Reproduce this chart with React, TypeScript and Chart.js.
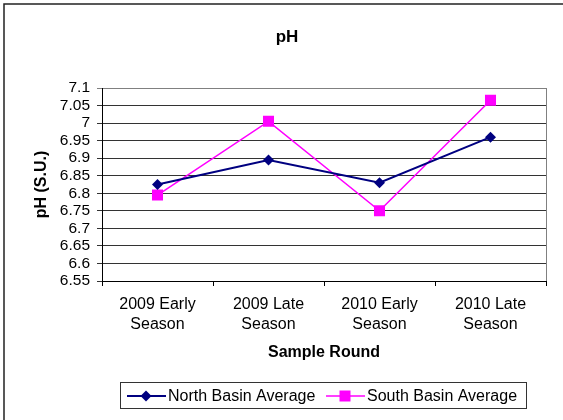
import React, { useEffect, useRef } from 'react';
import { Chart, registerables } from 'chart.js';

Chart.register(...registerables);

const categories: string[][] = [
  ['2009 Early', 'Season'],
  ['2009 Late', 'Season'],
  ['2010 Early', 'Season'],
  ['2010 Late', 'Season'],
];
const northBasin = [6.825, 6.895, 6.83, 6.96];
const southBasin = [6.795, 7.005, 6.75, 7.065];
const seriesNames = ['North Basin Average', 'South Basin Average'];
const yMin = 6.55;
const yMax = 7.1;
const yStep = 0.05;
const chartTitle = 'pH';
const yTitle = 'pH (S.U.)';
const xTitle = 'Sample Round';

const FONT = '"Liberation Sans", Arial, sans-serif';
const NAVY = '#000080';
const MAGENTA = '#FF00FF';

function drawMarker(ctx: CanvasRenderingContext2D, style: string, x: number, y: number, color: string) {
  ctx.save();
  ctx.fillStyle = color;
  ctx.beginPath();
  if (style === 'rectRot') {
    const r = 5.5;
    ctx.moveTo(x, y - r);
    ctx.lineTo(x + r, y);
    ctx.lineTo(x, y + r);
    ctx.lineTo(x - r, y);
    ctx.closePath();
  } else {
    const h = 5.5;
    ctx.rect(x - h, y - h, 2 * h, 2 * h);
  }
  ctx.fill();
  ctx.restore();
}

const decorPlugin = {
  id: 'decor',
  beforeDraw(chart: any) {
    const { ctx, width, height } = chart;
    ctx.save();
    ctx.fillStyle = '#fff';
    ctx.fillRect(0, 0, width, height);
    ctx.strokeStyle = '#222';
    ctx.lineWidth = 1.5;
    ctx.strokeRect(4, 4, width + 20, height + 20);
    ctx.restore();
  },
  afterDraw(chart: any) {
    const { ctx, chartArea } = chart;
    ctx.save();
    // plot area right border
    ctx.strokeStyle = '#808080';
    ctx.lineWidth = 1;
    ctx.beginPath();
    ctx.moveTo(Math.round(chartArea.right) + 0.5, chartArea.top);
    ctx.lineTo(Math.round(chartArea.right) + 0.5, chartArea.bottom);
    ctx.stroke();

    // title
    ctx.fillStyle = '#000';
    ctx.font = `bold 17px ${FONT}`;
    ctx.textAlign = 'center';
    ctx.textBaseline = 'middle';
    ctx.fillText(chartTitle, 287, 37);

    // legend
    ctx.strokeStyle = '#333';
    ctx.lineWidth = 1;
    ctx.strokeRect(120.5, 382.5, 406, 26);
    const ly = 396;
    const starts = [127, 326];
    chart.data.datasets.forEach((ds: any, i: number) => {
      const x0 = starts[i];
      ctx.strokeStyle = ds.borderColor;
      ctx.lineWidth = ds.borderWidth;
      ctx.beginPath();
      ctx.moveTo(x0, ly);
      ctx.lineTo(x0 + 39, ly);
      ctx.stroke();
      drawMarker(ctx, ds.pointStyle, x0 + 19, ly, ds.pointBackgroundColor);
      ctx.fillStyle = '#000';
      ctx.font = `16px ${FONT}`;
      ctx.textAlign = 'left';
      ctx.textBaseline = 'middle';
      ctx.fillText(ds.label, x0 + 41, ly + 1);
    });
    ctx.restore();
  },
};

export default function App() {
  const canvasRef = useRef<HTMLCanvasElement>(null);

  useEffect(() => {
    if (!canvasRef.current) return;
    Chart.defaults.font.family = FONT;
    Chart.defaults.color = '#000';
    const chart = new Chart(canvasRef.current, {
      type: 'line',
      data: {
        labels: categories,
        datasets: [
          {
            label: seriesNames[0],
            data: northBasin,
            borderColor: NAVY,
            backgroundColor: NAVY,
            pointBackgroundColor: NAVY,
            pointBorderColor: NAVY,
            pointStyle: 'rectRot',
            pointRadius: 5.5,
            pointBorderWidth: 0,
            borderWidth: 2,
            tension: 0,
          },
          {
            label: seriesNames[1],
            data: southBasin,
            borderColor: MAGENTA,
            backgroundColor: MAGENTA,
            pointBackgroundColor: MAGENTA,
            pointBorderColor: MAGENTA,
            pointStyle: 'rect',
            pointRadius: 7.8,
            pointBorderWidth: 0,
            borderWidth: 1.5,
            tension: 0,
          },
        ],
      },
      options: {
        responsive: false,
        animation: false,
        devicePixelRatio: 1,
        layout: { padding: { left: 0, right: 17, top: 88, bottom: 0 } },
        plugins: {
          legend: { display: false },
          title: { display: false },
          tooltip: { enabled: false },
        },
        scales: {
          x: {
            type: 'category',
            offset: true,
            afterFit: (s: any) => { s.height = 139; },
            grid: {
              offset: true,
              drawOnChartArea: false,
              drawTicks: true,
              tickLength: 5,
              color: '#000',
            },
            border: { color: '#000', width: 1 },
            ticks: {
              autoSkip: false,
              maxRotation: 0,
              minRotation: 0,
              padding: 9,
              color: '#000',
              font: { size: 16, lineHeight: 1.25 },
            },
            title: {
              display: true,
              text: xTitle,
              color: '#000',
              font: { size: 16, weight: 'bold', lineHeight: 1.2 },
              padding: { top: 0, bottom: 57.7 },
            },
          },
          y: {
            min: yMin,
            max: yMax,
            afterFit: (s: any) => { s.width = 102; },
            grid: {
              color: (c: any) => (c.tick && Math.abs(c.tick.value - yMax) < 1e-6 ? '#808080' : '#333'),
              tickLength: 5,
              lineWidth: 1,
            },
            border: { color: '#000', width: 1 },
            ticks: {
              stepSize: yStep,
              autoSkip: false,
              padding: 7,
              color: '#000',
              font: { size: 15.5, lineHeight: 1.0 },
              callback: (v: any) => String(Number(Number(v).toFixed(2))),
            },
            title: {
              display: true,
              text: yTitle,
              color: '#000',
              font: { size: 16, weight: 'bold', lineHeight: 1.2 },
              padding: { top: 32.4, bottom: 0 },
            },
          },
        },
      },
      plugins: [decorPlugin],
    });
    return () => chart.destroy();
  }, []);

  return (
    <div style={{ position: 'fixed', left: 0, top: 0, width: 563, height: 420 }}>
      <canvas ref={canvasRef} width={563} height={420} style={{ display: 'block' }} />
    </div>
  );
}
